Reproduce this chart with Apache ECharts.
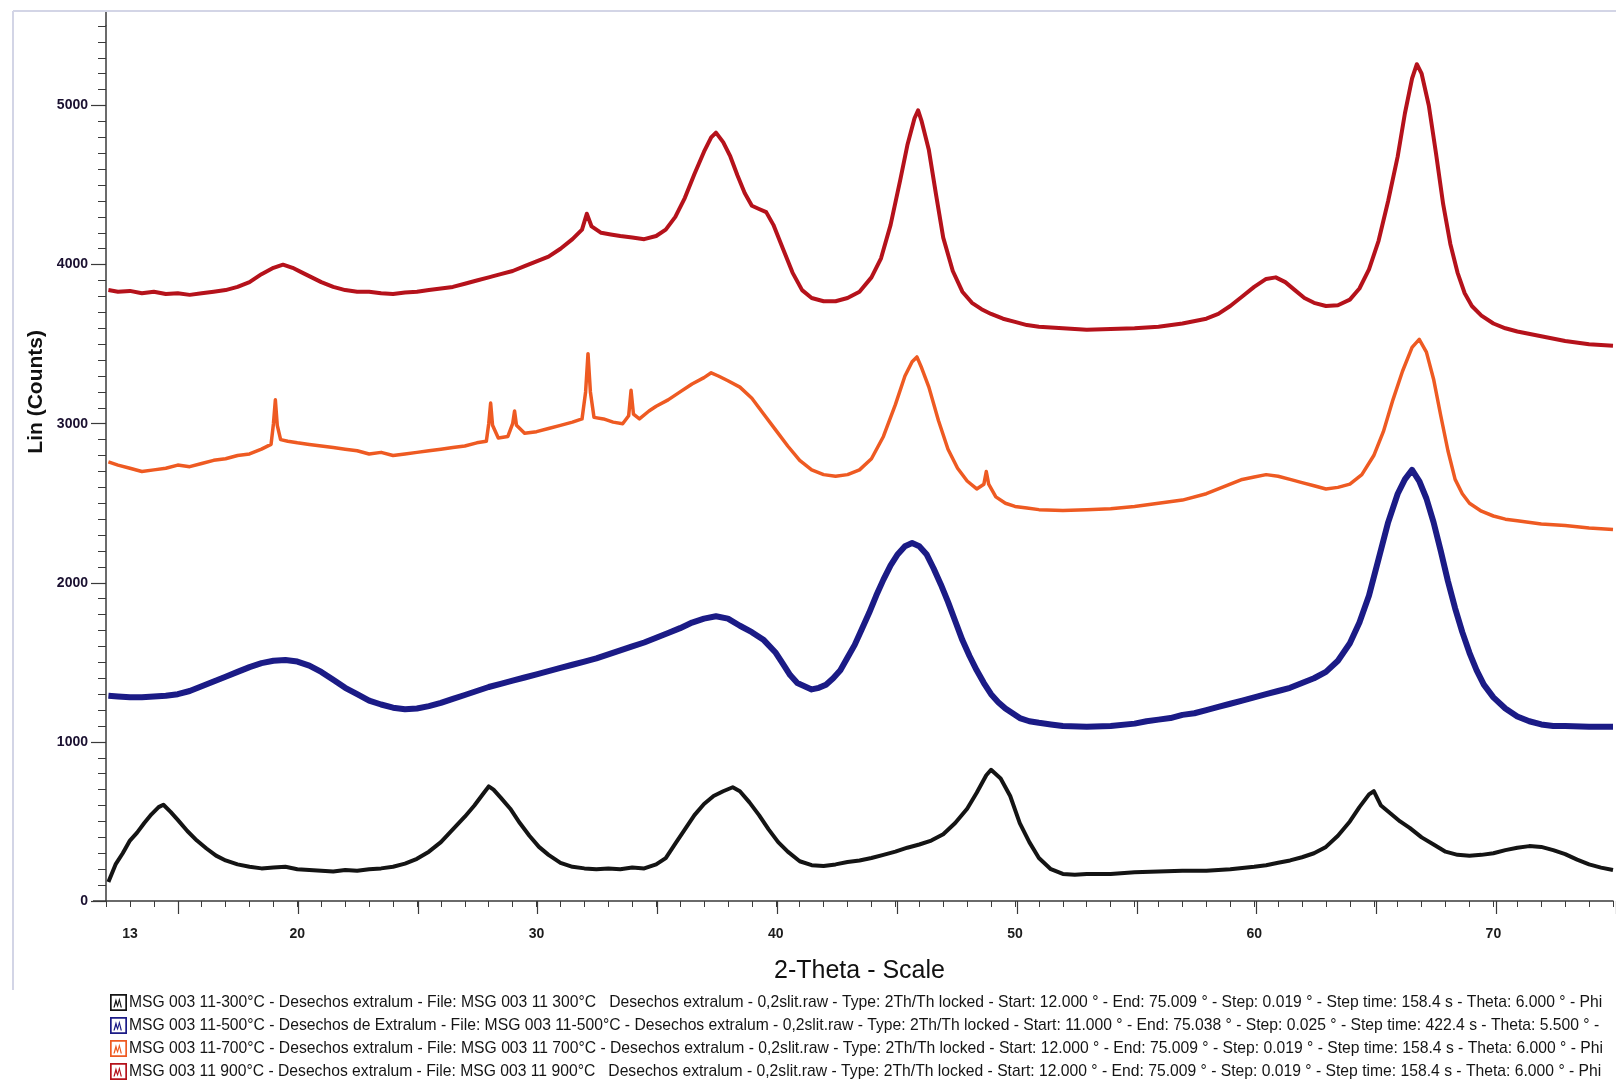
<!DOCTYPE html>
<html>
<head>
<meta charset="utf-8">
<script src="https://cdn.jsdelivr.net/npm/echarts@6/dist/echarts.min.js"></script>
<style>
html,body{margin:0;padding:0;background:#fff;}
#chart{width:1616px;height:1081px;}
</style>
</head>
<body>
<div id="chart"></div>
<script>
// ---- Data (2-Theta in degrees, Lin counts) ----
const seriesNames = [
  "MSG 003 11-300°C - Desechos extralum - File: MSG 003 11 300°C   Desechos extralum - 0,2slit.raw - Type: 2Th/Th locked - Start: 12.000 ° - End: 75.009 ° - Step: 0.019 ° - Step time: 158.4 s - Theta: 6.000 ° - Phi",
  "MSG 003 11-500°C - Desechos de Extralum - File: MSG 003 11-500°C - Desechos extralum - 0,2slit.raw - Type: 2Th/Th locked - Start: 11.000 ° - End: 75.038 ° - Step: 0.025 ° - Step time: 422.4 s - Theta: 5.500 ° -",
  "MSG 003 11-700°C - Desechos extralum - File: MSG 003 11 700°C - Desechos extralum - 0,2slit.raw - Type: 2Th/Th locked - Start: 12.000 ° - End: 75.009 ° - Step: 0.019 ° - Step time: 158.4 s - Theta: 6.000 ° - Phi",
  "MSG 003 11 900°C - Desechos extralum - File: MSG 003 11 900°C   Desechos extralum - 0,2slit.raw - Type: 2Th/Th locked - Start: 12.000 ° - End: 75.009 ° - Step: 0.019 ° - Step time: 158.4 s - Theta: 6.000 ° - Phi"
];
const seriesColors = ["#141414", "#1b1b86", "#ee5a22", "#b5121b"];

const s300 = [[12.1,120],[12.4,230],[12.7,300],[13.0,380],[13.3,430],[13.6,490],[13.9,545],[14.2,590],[14.4,605],[14.7,560],[15.0,510],[15.4,440],[15.8,380],[16.2,330],[16.6,285],[17.0,255],[17.5,230],[18.0,215],[18.5,205],[19.0,210],[19.5,215],[20.0,200],[20.5,195],[21.0,190],[21.5,185],[22.0,195],[22.5,190],[23.0,200],[23.5,205],[24.0,215],[24.5,235],[25.0,265],[25.5,310],[26.0,370],[26.5,450],[27.0,530],[27.4,600],[27.8,680],[28.0,720],[28.2,700],[28.5,650],[28.9,580],[29.3,490],[29.7,410],[30.1,340],[30.5,290],[31.0,240],[31.5,215],[32.0,205],[32.5,200],[33.0,205],[33.5,200],[34.0,210],[34.5,205],[35.0,230],[35.4,270],[35.8,360],[36.2,450],[36.6,540],[37.0,610],[37.4,660],[37.8,690],[38.2,715],[38.5,690],[38.9,620],[39.3,540],[39.7,450],[40.1,370],[40.5,310],[41.0,250],[41.5,225],[42.0,220],[42.5,230],[43.0,245],[43.5,255],[44.0,270],[44.5,290],[45.0,310],[45.5,335],[46.0,355],[46.5,380],[47.0,420],[47.5,490],[48.0,580],[48.4,680],[48.8,790],[49.0,825],[49.4,770],[49.8,660],[50.2,490],[50.6,370],[51.0,270],[51.5,200],[52.0,170],[52.5,165],[53.0,170],[54.0,170],[55.0,180],[56.0,185],[57.0,190],[58.0,190],[59.0,200],[60.0,215],[60.5,225],[61.0,240],[61.5,255],[62.0,275],[62.5,300],[63.0,340],[63.5,410],[64.0,500],[64.4,590],[64.8,670],[65.0,690],[65.3,600],[65.7,550],[66.1,500],[66.5,460],[67.0,400],[67.5,355],[68.0,310],[68.5,290],[69.0,285],[69.5,290],[70.0,300],[70.5,320],[71.0,335],[71.5,345],[72.0,340],[72.5,320],[73.0,295],[73.5,260],[74.0,230],[74.5,210],[75.0,195]];

const s500 = [[12.1,1290],[12.5,1285],[13.0,1280],[13.5,1280],[14.0,1285],[14.5,1290],[15.0,1300],[15.5,1320],[16.0,1350],[16.5,1380],[17.0,1410],[17.5,1440],[18.0,1470],[18.5,1495],[19.0,1510],[19.5,1515],[20.0,1505],[20.5,1480],[21.0,1440],[21.5,1390],[22.0,1340],[22.5,1300],[23.0,1260],[23.5,1235],[24.0,1215],[24.5,1205],[25.0,1210],[25.5,1225],[26.0,1245],[26.5,1270],[27.0,1295],[27.5,1320],[28.0,1345],[28.5,1365],[29.0,1385],[29.5,1405],[30.0,1425],[30.5,1445],[31.0,1465],[31.5,1485],[32.0,1505],[32.5,1525],[33.0,1550],[33.5,1575],[34.0,1600],[34.5,1625],[35.0,1655],[35.5,1685],[36.0,1715],[36.5,1750],[37.0,1775],[37.5,1790],[38.0,1775],[38.5,1730],[39.0,1690],[39.5,1640],[40.0,1560],[40.3,1490],[40.6,1420],[40.9,1370],[41.2,1350],[41.5,1330],[41.8,1340],[42.1,1360],[42.4,1400],[42.7,1450],[43.0,1530],[43.3,1610],[43.6,1710],[43.9,1810],[44.2,1920],[44.5,2020],[44.8,2110],[45.1,2180],[45.4,2230],[45.7,2250],[46.0,2230],[46.3,2180],[46.6,2090],[46.9,1990],[47.2,1880],[47.5,1760],[47.8,1640],[48.1,1540],[48.4,1450],[48.7,1370],[49.0,1300],[49.3,1250],[49.6,1210],[49.9,1180],[50.2,1150],[50.6,1130],[51.0,1120],[51.5,1110],[52.0,1100],[53.0,1095],[54.0,1100],[55.0,1115],[55.5,1130],[56.0,1140],[56.5,1150],[57.0,1170],[57.5,1180],[58.0,1200],[58.5,1220],[59.0,1240],[59.5,1260],[60.0,1280],[60.5,1300],[61.0,1320],[61.5,1340],[62.0,1370],[62.5,1400],[63.0,1440],[63.5,1510],[64.0,1620],[64.4,1750],[64.8,1920],[65.2,2150],[65.6,2380],[66.0,2560],[66.3,2650],[66.6,2710],[66.9,2640],[67.2,2530],[67.5,2380],[67.8,2200],[68.1,2010],[68.4,1840],[68.7,1690],[69.0,1560],[69.3,1450],[69.6,1360],[70.0,1280],[70.5,1210],[71.0,1160],[71.5,1130],[72.0,1110],[72.5,1100],[73.0,1100],[74.0,1095],[75.0,1095]];

const s700 = [[12.1,2760],[12.5,2740],[13.0,2720],[13.5,2700],[14.0,2710],[14.5,2720],[15.0,2740],[15.5,2730],[16.0,2750],[16.5,2770],[17.0,2780],[17.5,2800],[18.0,2810],[18.5,2840],[18.9,2870],[19.0,3000],[19.08,3150],[19.16,2990],[19.3,2900],[19.6,2890],[20.0,2880],[20.5,2870],[21.0,2860],[21.5,2850],[22.0,2840],[22.5,2830],[23.0,2810],[23.5,2820],[24.0,2800],[24.5,2810],[25.0,2820],[25.5,2830],[26.0,2840],[26.5,2850],[27.0,2860],[27.5,2880],[27.9,2890],[28.0,3000],[28.08,3130],[28.16,2990],[28.4,2910],[28.8,2920],[29.0,3000],[29.08,3080],[29.16,2990],[29.5,2940],[30.0,2950],[30.5,2970],[31.0,2990],[31.5,3010],[31.9,3030],[32.05,3200],[32.15,3440],[32.25,3200],[32.4,3040],[32.8,3030],[33.2,3010],[33.6,3000],[33.85,3050],[33.95,3210],[34.05,3060],[34.3,3030],[34.7,3080],[35.0,3110],[35.5,3150],[36.0,3200],[36.5,3250],[37.0,3290],[37.3,3320],[37.6,3300],[38.0,3270],[38.5,3230],[39.0,3160],[39.5,3060],[40.0,2960],[40.5,2860],[41.0,2770],[41.5,2710],[42.0,2680],[42.5,2670],[43.0,2680],[43.5,2710],[44.0,2780],[44.5,2920],[45.0,3120],[45.4,3300],[45.7,3390],[45.9,3420],[46.1,3350],[46.4,3230],[46.8,3020],[47.2,2840],[47.6,2720],[48.0,2640],[48.4,2590],[48.7,2620],[48.8,2700],[48.9,2620],[49.2,2540],[49.6,2500],[50.0,2480],[50.5,2470],[51.0,2460],[52.0,2455],[53.0,2460],[54.0,2465],[55.0,2480],[56.0,2500],[57.0,2520],[58.0,2560],[58.5,2590],[59.0,2620],[59.5,2650],[60.0,2665],[60.5,2680],[61.0,2670],[61.5,2650],[62.0,2630],[62.5,2610],[63.0,2590],[63.5,2600],[64.0,2620],[64.5,2680],[65.0,2800],[65.4,2950],[65.8,3150],[66.2,3330],[66.6,3480],[66.9,3530],[67.2,3450],[67.5,3280],[67.8,3050],[68.1,2830],[68.4,2650],[68.7,2560],[69.0,2500],[69.5,2450],[70.0,2420],[70.5,2400],[71.0,2390],[72.0,2370],[73.0,2360],[74.0,2345],[75.0,2335]];

const s900 = [[12.1,3840],[12.5,3830],[13.0,3835],[13.5,3820],[14.0,3830],[14.5,3815],[15.0,3820],[15.5,3810],[16.0,3820],[16.5,3830],[17.0,3840],[17.5,3860],[18.0,3890],[18.5,3940],[19.0,3980],[19.4,4000],[19.8,3980],[20.2,3950],[20.6,3920],[21.0,3890],[21.5,3860],[22.0,3840],[22.5,3830],[23.0,3830],[23.5,3820],[24.0,3815],[24.5,3825],[25.0,3830],[25.5,3840],[26.0,3850],[26.5,3860],[27.0,3880],[27.5,3900],[28.0,3920],[28.5,3940],[29.0,3960],[29.5,3990],[30.0,4020],[30.5,4050],[31.0,4100],[31.5,4160],[31.9,4220],[32.1,4320],[32.3,4240],[32.7,4200],[33.1,4190],[33.5,4180],[34.0,4170],[34.5,4160],[35.0,4180],[35.4,4220],[35.8,4300],[36.2,4420],[36.6,4570],[37.0,4710],[37.3,4800],[37.5,4830],[37.8,4770],[38.1,4680],[38.4,4560],[38.7,4450],[39.0,4370],[39.3,4350],[39.6,4330],[39.9,4250],[40.3,4100],[40.7,3950],[41.1,3840],[41.5,3790],[42.0,3770],[42.5,3770],[43.0,3790],[43.5,3830],[44.0,3920],[44.4,4040],[44.8,4250],[45.2,4530],[45.5,4750],[45.8,4920],[45.95,4970],[46.1,4900],[46.4,4720],[46.7,4440],[47.0,4170],[47.4,3960],[47.8,3830],[48.2,3760],[48.6,3720],[49.0,3690],[49.5,3660],[50.0,3640],[50.5,3620],[51.0,3610],[52.0,3600],[53.0,3590],[54.0,3595],[55.0,3600],[56.0,3610],[57.0,3630],[58.0,3660],[58.5,3690],[59.0,3740],[59.5,3800],[60.0,3860],[60.5,3910],[60.9,3920],[61.3,3890],[61.7,3840],[62.1,3790],[62.5,3760],[63.0,3740],[63.5,3745],[64.0,3780],[64.4,3850],[64.8,3970],[65.2,4150],[65.6,4400],[66.0,4680],[66.3,4950],[66.6,5170],[66.8,5260],[67.0,5200],[67.3,5000],[67.6,4700],[67.9,4380],[68.2,4130],[68.5,3950],[68.8,3820],[69.1,3740],[69.5,3680],[70.0,3630],[70.5,3600],[71.0,3580],[72.0,3550],[73.0,3520],[74.0,3500],[75.0,3490]];

const xLabelValues = [13, 20, 30, 40, 50, 60, 70];
const yLabelValues = [0, 1000, 2000, 3000, 4000, 5000];

// ---- Chart ----
const chart = echarts.init(document.getElementById('chart'), null, {renderer: 'canvas'});
const axisColor = '#3a3a3a';
const FONT = '"Liberation Sans", Arial, sans-serif';
const iconPath = 'path://M0,0L20,0L20,20L0,20Z M2,2L2,18L18,18L18,2Z M4,16L7,5L9,12L11,4L14,16L12.5,16L11,9L9,16L7,11L5.5,16Z';

const allData = [s300, s500, s700, s900];
const widths = [4, 6, 3.5, 4];

const option = {
  animation: false,
  backgroundColor: '#ffffff',
  grid: [
    {left: 106, right: -8, top: 26, bottom: 180},                 // plot + minor ticks
    {left: 178.3, right: -8, top: 26, bottom: 180},               // x major ticks (every 5)
    {left: 106, right: -8, top: 105.5, bottom: 180}               // y major ticks + labels
  ],
  xAxis: [
    {
      gridIndex: 0, type: 'value', min: 12, max: 75, interval: 1,
      axisLine: {show: true, lineStyle: {color: axisColor, width: 1.5}},
      axisTick: {show: true, length: 6, lineStyle: {color: axisColor, width: 1}},
      splitLine: {show: false},
      axisLabel: {
        show: true, margin: 26, fontSize: 14, fontWeight: 'bold', fontFamily: FONT, color: '#1c1c1c',
        formatter: function (v) { return xLabelValues.indexOf(Math.round(v)) >= 0 && Math.abs(v - Math.round(v)) < 1e-6 ? String(Math.round(v)) : ''; }
      },
      name: '2-Theta - Scale', nameLocation: 'middle', nameGap: 58,
      nameTextStyle: {fontSize: 25, fontFamily: FONT, color: '#111'}
    },
    {
      gridIndex: 1, type: 'value', min: 15, max: 75, interval: 5,
      axisLine: {show: false},
      axisTick: {show: true, length: 13, lineStyle: {color: axisColor, width: 1.2}},
      axisLabel: {show: false}, splitLine: {show: false}
    },
    {gridIndex: 2, type: 'value', min: 12, max: 75, show: false}
  ],
  yAxis: [
    {
      gridIndex: 0, type: 'value', min: 0, max: 5500, interval: 100,
      axisLine: {show: true, lineStyle: {color: axisColor, width: 1.5}},
      axisTick: {show: true, length: 8, lineStyle: {color: axisColor, width: 1}},
      axisLabel: {show: false}, splitLine: {show: false}
    },
    {gridIndex: 1, type: 'value', min: 0, max: 5500, show: false},
    {
      gridIndex: 2, type: 'value', min: 0, max: 5000, interval: 1000,
      axisLine: {show: false},
      axisTick: {show: true, length: 15, lineStyle: {color: axisColor, width: 1.2}},
      splitLine: {show: false},
      axisLabel: {
        show: true, margin: 18, fontSize: 14, fontWeight: 'bold', fontFamily: FONT, color: '#1a1030',
        formatter: function (v) { return yLabelValues.indexOf(v) >= 0 ? String(v) : ''; }
      }
    }
  ],
  legend: {
    orient: 'vertical', left: 110, top: 994, height: 120, padding: 0,
    itemWidth: 17, itemHeight: 17, itemGap: 6,
    icon: iconPath,
    selectedMode: false,
    textStyle: {fontSize: 15.7, fontFamily: FONT, color: '#151515', padding: [0, 0, 0, -3]},
    data: seriesNames
  },
  graphic: [
    // light frame
    {type: 'line', shape: {x1: 13, y1: 11, x2: 1616, y2: 11}, style: {stroke: '#d3d5e6', lineWidth: 2}, silent: true},
    {type: 'line', shape: {x1: 13, y1: 11, x2: 13, y2: 990}, style: {stroke: '#d3d5e6', lineWidth: 2}, silent: true},
    // axis line extensions
    {type: 'line', shape: {x1: 106, y1: 12, x2: 106, y2: 26}, style: {stroke: axisColor, lineWidth: 1.5}, silent: true},
    {type: 'line', shape: {x1: 93, y1: 901, x2: 106, y2: 901}, style: {stroke: axisColor, lineWidth: 1.5}, silent: true},
    // y axis name
    {type: 'text', left: 26, top: 330, rotation: Math.PI / 2,
      style: {text: 'Lin (Counts)', fontSize: 21, fontWeight: 'bold', fontFamily: FONT, fill: '#111'}}
  ],
  series: allData.map(function (d, i) {
    return {
      name: seriesNames[i], type: 'line', xAxisIndex: 0, yAxisIndex: 0,
      data: d, showSymbol: false, symbol: 'none', smooth: false,
      lineStyle: {color: seriesColors[i], width: widths[i], join: 'round'},
      itemStyle: {color: seriesColors[i]},
      emphasis: {disabled: true}
    };
  })
};
chart.setOption(option);
</script>
</body>
</html>
